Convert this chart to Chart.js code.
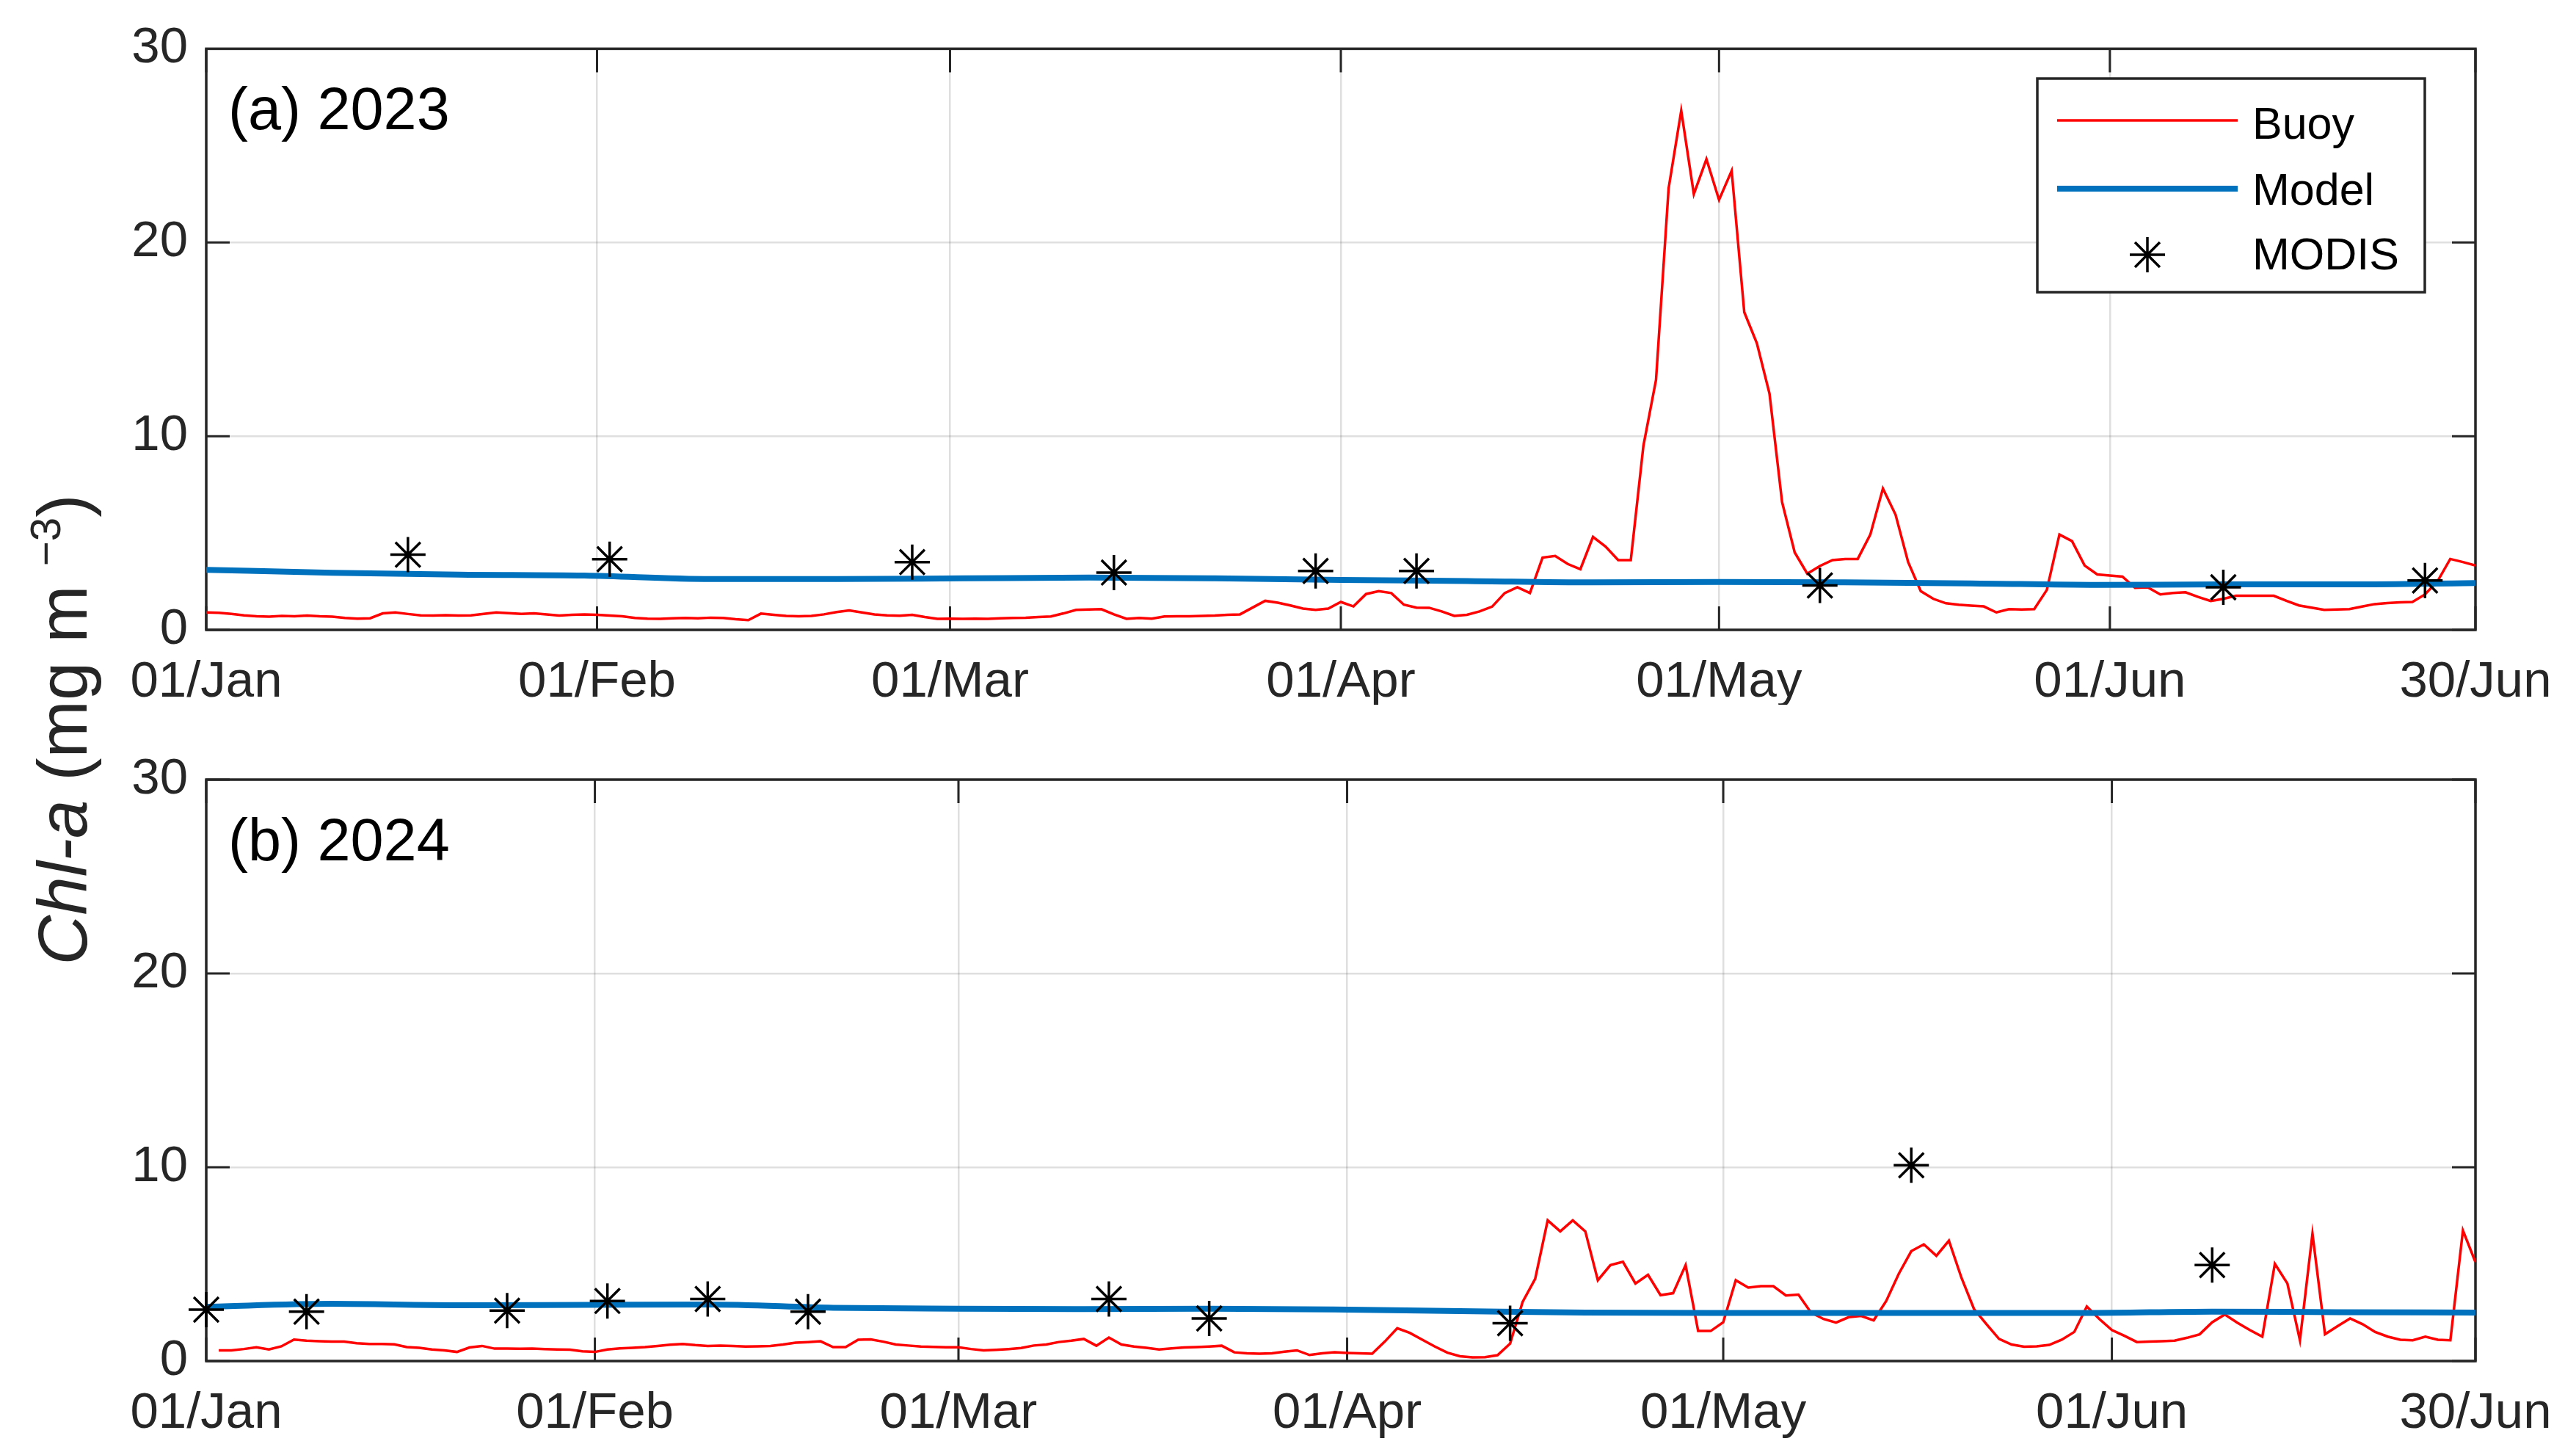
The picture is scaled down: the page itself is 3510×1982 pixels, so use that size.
<!DOCTYPE html>
<html>
<head>
<meta charset="utf-8">
<script src="https://cdn.jsdelivr.net/npm/chart.js@4.4.1/dist/chart.umd.min.js"></script>
<style>
  html, body { margin: 0; padding: 0; background: #ffffff; }
  #wrap { position: relative; width: 3510px; height: 1982px; overflow: hidden; background: #fff; }
  .panel { position: absolute; left: 0; width: 3510px; }
  #ytitle {
    position: absolute; width: 900px; height: 110px; line-height: 110px;
    left: -364px; top: 939px; text-align: center;
    transform: rotate(-90deg); transform-origin: 450px 55px;
    font-family: 'Liberation Sans', Arial, Helvetica, sans-serif; font-size: 94px; color: #262626;
    white-space: nowrap;
  }
  #ytitle sup { font-size: 0.62em; vertical-align: 0.62em; line-height: 0; }
</style>
</head>
<body>
<div id="wrap">
  <div class="panel" style="top:0;height:960px;"><canvas id="c1" width="3510" height="960"></canvas></div>
  <div class="panel" style="top:960px;height:1022px;"><canvas id="c2" width="3510" height="1022"></canvas></div>
  <div id="ytitle"><i>Chl-a</i> (mg m <sup>−3</sup>)</div>
</div>
<script>
// ---------------- DATA ----------------
// x values are day offsets from 01/Jan of each year
const tickDays2023 = [0, 31, 59, 90, 120, 151, 180];
const tickDays2024 = [0, 31, 60, 91, 121, 152, 181];
const tickLabels = ['01/Jan', '01/Feb', '01/Mar', '01/Apr', '01/May', '01/Jun', '30/Jun'];
const yTicks = [0, 10, 20, 30];

// Buoy daily Chl-a, index = day offset (2023: 0..180)
const buoy2023 = [
  0.90,0.88,0.82,0.75,0.70,0.68,0.72,0.70,0.74,0.70,
  0.68,0.62,0.58,0.60,0.85,0.90,0.82,0.75,0.74,0.76,
  0.74,0.75,0.82,0.90,0.86,0.82,0.85,0.80,0.74,0.78,
  0.80,0.78,0.74,0.70,0.62,0.58,0.57,0.60,0.62,0.60,
  0.63,0.62,0.55,0.50,0.84,0.78,0.72,0.70,0.72,0.80,
  0.92,1.00,0.90,0.80,0.75,0.73,0.78,0.66,0.57,0.58,
  0.57,0.58,0.57,0.60,0.62,0.63,0.66,0.69,0.85,1.03,
  1.05,1.07,0.80,0.57,0.62,0.58,0.69,0.70,0.70,0.72,
  0.74,0.78,0.80,1.15,1.50,1.40,1.26,1.10,1.03,1.10,
  1.44,1.21,1.85,2.00,1.90,1.30,1.15,1.14,0.95,0.72,
  0.78,0.95,1.20,1.90,2.20,1.90,3.73,3.82,3.40,3.13,
  4.80,4.30,3.60,3.60,9.50,12.9,22.8,26.8,22.5,24.3,
  22.2,23.7,16.4,14.8,12.2,6.60,4.00,2.90,3.30,3.60,
  3.66,3.66,4.92,7.30,5.95,3.50,2.00,1.60,1.37,1.30,
  1.25,1.21,0.90,1.07,1.05,1.07,2.06,4.92,4.58,3.32,
  2.86,2.80,2.75,2.17,2.20,1.83,1.90,1.94,1.70,1.49,
  1.60,1.76,1.76,1.76,1.76,1.50,1.26,1.15,1.03,1.05,
  1.07,1.20,1.33,1.38,1.42,1.44,1.83,2.52,3.66,3.50,
  3.32
];
// Buoy daily Chl-a, index = day offset (2024: 0..181)
const buoy2024 = [
  null,0.55,0.55,0.62,0.71,0.60,0.76,1.11,1.05,1.02,
  1.00,1.00,0.92,0.88,0.88,0.86,0.72,0.68,0.60,0.55,
  0.47,0.70,0.78,0.64,0.64,0.63,0.64,0.62,0.60,0.59,
  0.50,0.47,0.60,0.65,0.68,0.72,0.78,0.84,0.88,0.82,
  0.78,0.80,0.78,0.75,0.76,0.78,0.85,0.95,0.98,1.02,
  0.72,0.72,1.10,1.12,1.00,0.85,0.80,0.75,0.73,0.71,
  0.71,0.62,0.55,0.58,0.62,0.67,0.80,0.85,0.98,1.05,
  1.14,0.79,1.21,0.85,0.75,0.68,0.60,0.65,0.70,0.72,
  0.75,0.79,0.45,0.40,0.38,0.40,0.48,0.55,0.31,0.40,
  0.45,0.42,0.40,0.38,1.00,1.69,1.45,1.10,0.75,0.43,
  0.25,0.19,0.20,0.30,0.90,3.05,4.24,7.26,6.69,7.26,
  6.69,4.17,4.95,5.12,4.00,4.45,3.40,3.50,4.95,1.55,
  1.55,2.00,4.17,3.79,3.86,3.86,3.38,3.43,2.50,2.17,
  1.98,2.26,2.33,2.10,3.10,4.50,5.67,6.02,5.43,6.21,
  4.30,2.69,1.90,1.14,0.85,0.74,0.76,0.83,1.10,1.50,
  2.81,2.17,1.60,1.30,0.98,1.00,1.02,1.05,1.20,1.38,
  2.00,2.40,1.98,1.60,1.26,5.02,4.00,1.07,6.57,1.38,
  1.80,2.20,1.90,1.50,1.26,1.10,1.07,1.26,1.10,1.07,
  6.74,5.10
];

// Model (smooth), sampled every 10 days
const modelDays2023 = [0,10,20,30,40,50,60,70,80,90,100,110,120,130,140,150,160,170,180];
const model2023     = [3.10,2.95,2.85,2.80,2.62,2.62,2.66,2.70,2.66,2.58,2.52,2.45,2.47,2.45,2.40,2.32,2.35,2.35,2.42];
const modelDays2024 = [0,10,20,30,40,50,60,70,80,90,100,110,120,130,140,150,160,170,181];
const model2024     = [2.80,2.95,2.88,2.90,2.92,2.75,2.70,2.68,2.70,2.66,2.58,2.50,2.48,2.48,2.48,2.48,2.55,2.52,2.50];

// MODIS 8-day points
const modisDays2023 = [16,32,56,72,88,96,128,160,176];
const modis2023     = [3.88,3.65,3.50,2.96,3.04,3.04,2.29,2.20,2.55];
const modisDays2024 = [0,8,24,32,40,48,72,80,104,136,160];
const modis2024     = [2.65,2.55,2.60,3.10,3.20,2.55,3.20,2.20,1.95,10.1,4.95];

const seriesNames = ['Buoy', 'Model', 'MODIS'];
const panelLabels = ['(a) 2023', '(b) 2024'];

// ---------------- STYLE ----------------
const FONT = "'Liberation Sans', Arial, Helvetica, sans-serif";
const AXIS = '#262626';
const RED = '#ff0000';
const BLUE = '#0072bd';
const GRID = 'rgba(38,38,38,0.15)';

const matlabAxes = {
  id: 'matlabAxes',
  beforeDatasetsDraw(chart, args, opts) {
    const ctx = chart.ctx, a = chart.chartArea;
    const xs = chart.scales.x, ys = chart.scales.y;
    ctx.save();
    ctx.strokeStyle = AXIS;
    ctx.lineWidth = 3;
    const tl = 32;
    ctx.beginPath();
    xs.ticks.forEach(t => {
      const px = xs.getPixelForValue(t.value);
      ctx.moveTo(px, a.top); ctx.lineTo(px, a.top + tl);
      ctx.moveTo(px, a.bottom); ctx.lineTo(px, a.bottom - tl);
    });
    ys.ticks.forEach(t => {
      const py = ys.getPixelForValue(t.value);
      ctx.moveTo(a.left, py); ctx.lineTo(a.left + tl, py);
      ctx.moveTo(a.right, py); ctx.lineTo(a.right - tl, py);
    });
    ctx.stroke();
    ctx.lineWidth = 3.5;
    ctx.strokeRect(a.left, a.top, a.right - a.left, a.bottom - a.top);
    ctx.restore();
  },
  afterDatasetsDraw(chart, args, opts) {
    const ctx = chart.ctx, a = chart.chartArea;
    ctx.save();
    ctx.fillStyle = '#000';
    ctx.font = '81px ' + FONT;
    ctx.textAlign = 'left';
    ctx.textBaseline = 'alphabetic';
    ctx.fillText(opts.label, a.left + 30, a.top + 110);
    if (opts.legend) {
      const bx = 2776, by = 107, bw = 528, bh = 291;
      ctx.fillStyle = '#fff';
      ctx.fillRect(bx, by, bw, bh);
      ctx.strokeStyle = AXIS;
      ctx.lineWidth = 3.5;
      ctx.strokeRect(bx, by, bw, bh);
      const rows = [164, 257, 347];
      // Buoy sample
      ctx.strokeStyle = RED; ctx.lineWidth = 3.5;
      ctx.beginPath(); ctx.moveTo(2803, rows[0]); ctx.lineTo(3049, rows[0]); ctx.stroke();
      // Model sample
      ctx.strokeStyle = BLUE; ctx.lineWidth = 8;
      ctx.beginPath(); ctx.moveTo(2803, rows[1]); ctx.lineTo(3049, rows[1]); ctx.stroke();
      // MODIS sample
      ctx.strokeStyle = '#000'; ctx.lineWidth = 3.5;
      Chart.helpers.drawPoint(ctx, { pointStyle: 'star', radius: 24, rotation: 0, borderWidth: 3.5 }, 2926, rows[2]);
      ctx.fillStyle = '#000';
      ctx.font = '61px ' + FONT;
      ctx.textBaseline = 'middle';
      const textY = [172, 262, 350];
      seriesNames.forEach((n, i) => ctx.fillText(n, 3069, textY[i]));
    }
    ctx.restore();
  }
};

function makeChart(id, cfg) {
  const buoyData = cfg.buoy.map((v, i) => ({ x: i, y: v }));
  const modelData = cfg.modelDays.map((d, i) => ({ x: d, y: cfg.model[i] }));
  const modisData = cfg.modisDays.map((d, i) => ({ x: d, y: cfg.modis[i] }));
  return new Chart(document.getElementById(id), {
    type: 'line',
    data: {
      datasets: [
        { label: seriesNames[0], data: buoyData, borderColor: RED, borderWidth: 3.5, pointRadius: 0,
          tension: 0, spanGaps: false, order: 2 },
        { label: seriesNames[1], data: modelData, borderColor: BLUE, borderWidth: 8, pointRadius: 0,
          cubicInterpolationMode: 'monotone', order: 1 },
        { label: seriesNames[2], data: modisData, showLine: false, pointStyle: 'star', pointRadius: 24,
          pointBorderWidth: 3.5, pointBorderColor: '#000', pointBackgroundColor: '#000',
          borderColor: '#000', clip: false, order: 0 }
      ]
    },
    options: {
      responsive: false,
      animation: false,
      events: [],
      layout: { padding: { top: cfg.padTop, right: 137, left: 0, bottom: 0 } },
      plugins: {
        legend: { display: false },
        tooltip: { enabled: false },
        matlabAxes: { label: cfg.label, legend: cfg.legend }
      },
      scales: {
        x: {
          type: 'linear', min: cfg.tickDays[0], max: cfg.tickDays[cfg.tickDays.length - 1],
          afterBuildTicks: s => { s.ticks = cfg.tickDays.map(v => ({ value: v })); },
          afterFit: s => { s.height = cfg.xAxisH; },
          ticks: {
            autoSkip: false, maxRotation: 0, minRotation: 0, padding: 31,
            color: AXIS, font: { family: FONT, size: 69 },
            callback: (v, i) => tickLabels[i]
          },
          grid: { color: GRID, lineWidth: 2.5, drawTicks: false },
          border: { display: false }
        },
        y: {
          min: 0, max: 30,
          afterBuildTicks: s => { s.ticks = yTicks.map(v => ({ value: v })); },
          afterFit: s => { s.width = 281; },
          ticks: { padding: 25, color: AXIS, font: { family: FONT, size: 69 } },
          grid: { color: GRID, lineWidth: 2.5, drawTicks: false },
          border: { display: false }
        }
      }
    },
    plugins: [matlabAxes]
  });
}

makeChart('c1', { buoy: buoy2023, modelDays: modelDays2023, model: model2023,
  modisDays: modisDays2023, modis: modis2023, tickDays: tickDays2023,
  label: panelLabels[0], legend: true, padTop: 61, xAxisH: 102 });
makeChart('c2', { buoy: buoy2024, modelDays: modelDays2024, model: model2024,
  modisDays: modisDays2024, modis: modis2024, tickDays: tickDays2024,
  label: panelLabels[1], legend: false, padTop: 102, xAxisH: 128 });
</script>
</body>
</html>
